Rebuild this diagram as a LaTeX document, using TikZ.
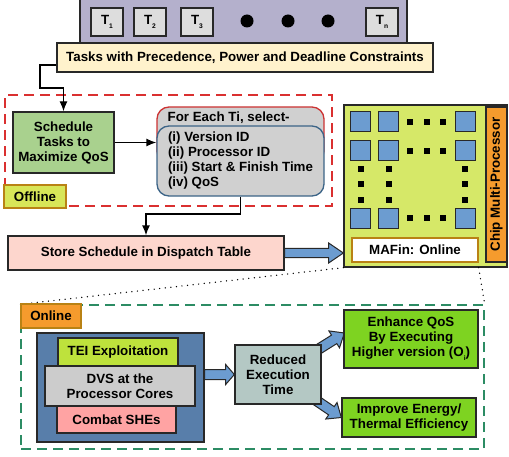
\documentclass[tikz,border=0pt]{standalone}
\usepackage{fontspec}
\setmainfont{Liberation Sans}
\usetikzlibrary{calc,arrows.meta}
\pgfdeclarelayer{background}
\pgfsetlayers{background,main}

\definecolor{boxline}{RGB}{40,40,40}
\definecolor{taskbar}{RGB}{180,176,204}
\definecolor{taskgrey}{RGB}{221,221,221}
\definecolor{labelyellow}{RGB}{255,242,204}
\definecolor{offred}{RGB}{218,48,48}
\definecolor{schedgreen}{RGB}{169,209,142}
\definecolor{selred}{RGB}{204,51,51}
\definecolor{selblue}{RGB}{60,100,135}
\definecolor{selgrey}{RGB}{208,208,208}
\definecolor{offyellow}{RGB}{216,230,88}
\definecolor{labelbrown}{RGB}{185,130,20}
\definecolor{storepink}{RGB}{253,214,205}
\definecolor{coreblue}{RGB}{108,156,208}
\definecolor{cmpgreen}{RGB}{214,232,104}
\definecolor{cmporange}{RGB}{245,155,45}
\definecolor{onlgreen}{RGB}{44,140,100}
\definecolor{dvsblue}{RGB}{88,126,170}
\definecolor{teigreen}{RGB}{190,226,60}
\definecolor{dvsgrey}{RGB}{204,204,204}
\definecolor{combatpink}{RGB}{255,163,163}
\definecolor{redgrey}{RGB}{180,200,196}
\definecolor{outgreen}{RGB}{126,211,33}

\newcommand{\tsub}[1]{\raisebox{-2.8pt}{\fontsize{5}{5}\selectfont #1}}
% block arrow: from, to, shaft half width, head half width, head length
\newcommand{\blockarrow}[5]{%
  \coordinate (bahead) at ($(#2)!#5!(#1)$);
  \draw[blockarrow] ($(#1)!#3!90:(#2)$) -- ($(bahead)!#3!90:(#2)$) -- ($(bahead)!#4!90:(#2)$) -- (#2) -- ($(bahead)!#4!-90:(#2)$) -- ($(bahead)!#3!-90:(#2)$) -- ($(#1)!#3!-90:(#2)$) -- cycle;
}

\tikzset{every picture/.style={line width=0.75pt}}
\tikzset{
  sz/.style 2 args={minimum width=#1*0.75pt, minimum height=#2*0.75pt},
  box/.style={draw=boxline, line width=1pt, inner sep=0.75pt, align=center, font=\bfseries\fontsize{10}{11.25}\selectfont},
  tbox/.style={box, fill=taskgrey, sz={32}{28}},
  core/.style={draw=boxline, line width=0.75pt, fill=coreblue, minimum size=15pt, inner sep=0pt},
  regionbox/.style={line width=1pt, dash pattern=on 7.5pt off 4.5pt},
  conn/.style={draw=black, line width=1pt, -{Latex[length=7.5pt,width=6pt]}},
  blockarrow/.style={draw=boxline, line width=0.75pt, fill=coreblue},
  dotline/.style={line width=1.1pt, line cap=round, dash pattern=on 0pt off 4.2pt},
}

\begin{document}
\begin{tikzpicture}[x=0.75pt,y=0.75pt,yscale=-1,xscale=1]
\useasboundingbox (0,0) rectangle (509,456);

% Task Bar
\node[box, fill=taskbar, sz={327}{50}] (taskbar) at (243.5,22.5) {};
\node[tbox] (t1) at (107,22) {T\tsub{1}};
\node[tbox] (t2) at (150,22) {T\tsub{2}};
\node[tbox] (t3) at (197,22) {T\tsub{3}};
\foreach \dx in {247,288,328} \fill (\dx,21) circle (6.5);
\node[tbox] (tn) at (382,22) {T\tsub{n}};
% Text Node
\node[box, fill=labelyellow, sz={376}{29}] (constraints) at (245,57.5) {Tasks with Precedence, Power and Deadline Constraints};

% Offline Region
\node[draw=offred, regionbox, sz={327}{111}] (offlinebox) at (168.5,150.5) {};
\node[box, fill=schedgreen, sz={101}{61}] (schedule) at (63.5,142.5) {Schedule\\Tasks to\\Maximize QoS};
\node[box, draw=selred, fill=selgrey, rounded corners=9pt, sz={167}{56}] (selouter) at (240.5,135) {};
\node[box, anchor=west, draw=none] (selhead) at (166,117.5) {For Each Ti, select-};
\node[box, draw=selblue, fill=selgrey, rounded corners=9pt, sz={167}{70}, align=left] (selinner) at (240.5,161) {(i) Version ID\\(ii) Processor ID\\(iii) Start \& Finish Time\\(iv) QoS};
\node[box, draw=labelbrown, fill=offyellow, sz={62}{23}] (offlinelbl) at (35,196.5) {Offline};
\node[box, fill=storepink, sz={276}{34}] (store) at (146,253) {Store Schedule in Dispatch Table};

%Straight Lines
\coordinate (bend1) at (40,88);
\coordinate (bend2) at (240.5,214);
\draw[conn] ($(constraints.west)+(0,7.5)$) -| (bend1) -| (schedule.north);
\draw[conn] (schedule.east) -- (selinner.west |- schedule.east);
\draw[conn] (selinner.south) -- (bend2) -| (store.north);

% Chip Multi-Processor
\node[box, fill=cmpgreen, sz={163}{162}] (cmp) at (425.5,186) {};
\node[box, fill=cmporange, sz={155}{21}, rotate=90] (cmplbl) at (496.5,184.5) {Chip Multi-Processor};
\foreach \cx [count=\i] in {360,388.5,465}
  \foreach \cy [count=\j] in {121.5,150.5,218}
    \node[core] (c\i\j) at (\cx,\cy) {};
\foreach \cy in {121.5,150.5,218}
  \foreach \dx in {410,427,443} \fill (\dx-3,\cy-3) rectangle ++(6,6);
\foreach \cx in {361,389,465}
  \foreach \dy in {169,184,200} \fill (\cx-3,\dy-3) rectangle ++(6,6);
\node[box, draw=labelbrown, fill=white, sz={126}{24}] (mafin) at (415,250) {MAFin: Online};
\coordinate (cmpin) at (cmp.west |- store.east);
\blockarrow{store.east}{cmpin}{3.4pt}{7.5pt}{11pt}

% Online Region
\coordinate (cmpcut) at (mafin.east |- cmp.south);
\node[draw=onlgreen, regionbox, sz={463}{144}] (onlinebox) at (252.5,377) {};
\draw[dotline] (cmp.south west) -- (onlinebox.north west);
\draw[dotline] (cmpcut) -- (onlinebox.north east);
\node[box, draw=labelbrown, fill=cmporange, sz={60}{24}] (onlinelbl) at (51,316) {Online};

\node[box, fill=dvsblue, sz={167}{109}] (dvsback) at (120.5,387.5) {};
\node[box, fill=teigreen, sz={120}{28}] (tei) at (118,352) {TEI Exploitation};
\node[box, fill=combatpink, sz={119}{27}] (combat) at (116.5,419.5) {Combat SHEs};
\node[box, fill=dvsgrey, sz={150}{40}] (dvs) at (120,386) {DVS at the\\Processor Cores};

\node[box, fill=redgrey, sz={86}{59}] (reduced) at (278,374.5) {Reduced\\Execution\\Time};
\node[box, fill=outgreen, sz={134}{58}] (enhance) at (411,339) {Enhance QoS\\By Executing\\Higher version (O\tsub{i})};
\node[box, fill=outgreen, sz={134}{39}] (improve) at (409,417.5) {Improve Energy/\\Thermal Efficiency};

\coordinate (dvsout) at (dvsback.east |- reduced.west);
\coordinate (enhtip) at ($(enhance.west)+(1,-6)$);
\blockarrow{dvsout}{reduced.west}{3.75pt}{7.5pt}{6.5pt}
\begin{pgfonlayer}{background}
\blockarrow{reduced.center}{enhtip}{3.75pt}{7.5pt}{9pt}
\blockarrow{reduced.center}{improve.west}{3.75pt}{7.5pt}{9pt}
\end{pgfonlayer}

\end{tikzpicture}
\end{document}
